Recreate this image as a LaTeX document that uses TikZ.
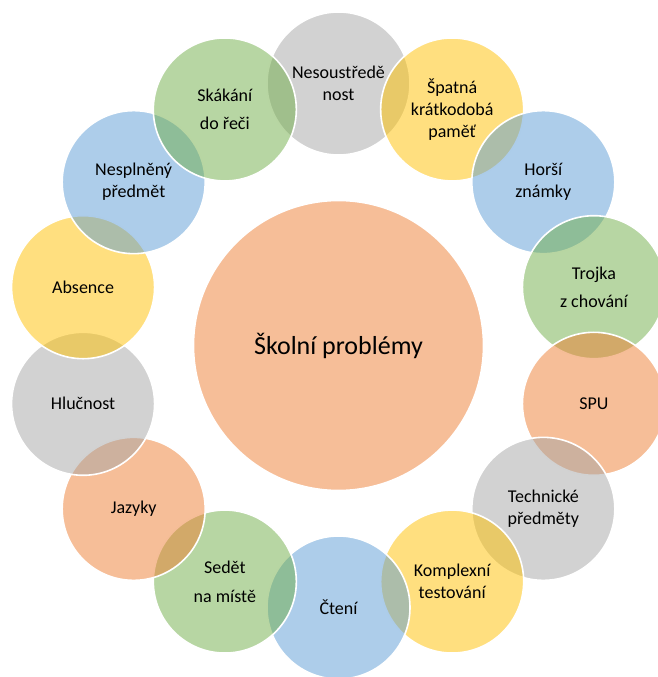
\documentclass[tikz,border=0pt]{standalone}
\usepackage{fontspec}
\setmainfont{Carlito}
\definecolor{accgray}{HTML}{A5A5A5}
\definecolor{accyellow}{HTML}{FFC000}
\definecolor{accblue}{HTML}{5B9BD5}
\definecolor{accgreen}{HTML}{70AD47}
\definecolor{accorange}{HTML}{ED7D31}
\tikzset{
  bubble/.style={circle, minimum size=143pt, inner sep=0pt, align=center,
    fill=#1, fill opacity=0.5, text opacity=1, draw=white, draw opacity=1,
    line width=1.6pt, font=\fontsize{18}{22}\selectfont},
  hub/.style={circle, minimum size=290pt, inner sep=0pt, align=center,
    fill=accorange, fill opacity=0.5, text opacity=1, draw=white,
    line width=1.6pt, font=\fontsize{26}{30}\selectfont}
}
\begin{document}
\begin{tikzpicture}[x=1pt,y=-1pt]
\useasboundingbox (0,0) rectangle (658,677);
\begin{scope}
\clip (0,0) rectangle (658,677);
% central topic
\node[hub] (hub) at (338.5,345.5) {Školní problémy};
% ring of fourteen causes, clockwise from the top
\def\ringx#1{{338.5+262*cos(#1)}}
\def\ringy#1{{345.5-262*sin(#1)}}
\node[bubble=accgray]   (c1)  at (\ringx{90},\ringy{90})             {Nesoustředě\\nost};
\node[bubble=accyellow] (c2)  at (\ringx{64.2857},\ringy{64.2857})   {Špatná\\krátkodobá\\paměť};
\node[bubble=accblue]   (c3)  at (\ringx{38.5714},\ringy{38.5714})   {Horší\\známky};
\node[bubble=accgreen]  (c4)  at (\ringx{12.8571},\ringy{12.8571})   {Trojka\\[6pt]z chování};
\node[bubble=accorange] (c5)  at (\ringx{-12.8571},\ringy{-12.8571}) {SPU};
\node[bubble=accgray]   (c6)  at (\ringx{-38.5714},\ringy{-38.5714}) {Technické\\předměty};
\node[bubble=accyellow] (c7)  at (\ringx{-64.2857},\ringy{-64.2857}) {Komplexní\\testování};
\node[bubble=accblue]   (c8)  at (\ringx{-90},\ringy{-90})           {Čtení};
\node[bubble=accgreen]  (c9)  at (\ringx{-115.714},\ringy{-115.714}) {Sedět\\[7pt]na místě};
\node[bubble=accorange] (c10) at (\ringx{-141.429},\ringy{-141.429}) {Jazyky};
\node[bubble=accgray]   (c11) at (\ringx{-167.143},\ringy{-167.143}) {Hlučnost};
\node[bubble=accyellow] (c12) at (\ringx{167.143},\ringy{167.143})   {Absence};
\node[bubble=accblue]   (c13) at (\ringx{141.429},\ringy{141.429})   {Nesplněný\\předmět};
\node[bubble=accgreen]  (c14) at (\ringx{115.714},\ringy{115.714})   {Skákání\\[6pt]do řeči};
\end{scope}
\end{tikzpicture}
\end{document}
